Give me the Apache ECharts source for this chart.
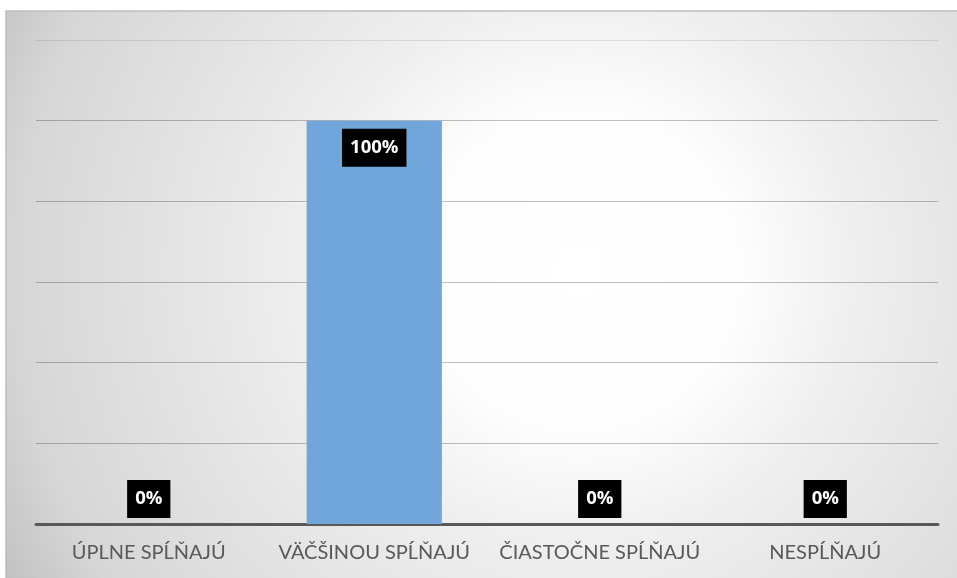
<!DOCTYPE html>
<html>
<head>
<meta charset="utf-8">
<script src="https://cdn.jsdelivr.net/npm/echarts@6/dist/echarts.min.js"></script>
<style>
  html, body { margin: 0; padding: 0; background: #fff; }
  #chart { width: 957px; height: 578px; }
</style>
</head>
<body>
<div id="chart"></div>
<script>
// kategórie a hodnoty (v %)
const categories = ['ÚPLNE SPĹŇAJÚ', 'VÄČŠINOU SPĹŇAJÚ', 'ČIASTOČNE SPĹŇAJÚ', 'NESPĹŇAJÚ'];
const values = [0, 100, 0, 0];

const chart = echarts.init(document.getElementById('chart'));

const labelBase = {
  show: true,
  formatter: '{c}%',
  color: '#fff',
  backgroundColor: '#000',
  fontFamily: 'Open Sans',
  fontWeight: 'bold',
  fontSize: 18.5,
  lineHeight: 20,
  padding: [9, 8]
};

const option = {
  animation: false,
  graphic: [
    {
      type: 'rect',
      z: -10,
      shape: { x: 6, y: 11, width: 960, height: 580 },
      style: {
        fill: new echarts.graphic.RadialGradient(580, 270, 650, [
          { offset: 0, color: '#ffffff' },
          { offset: 0.25, color: '#fdfdfd' },
          { offset: 0.42, color: '#efefef' },
          { offset: 0.87, color: '#d6d6d6' },
          { offset: 1, color: '#c2c2c2' }
        ], true),
        stroke: '#bdbdbd',
        lineWidth: 1.5
      }
    }
  ],
  grid: { left: 36, right: 19, top: 40, bottom: 54 },
  xAxis: {
    type: 'category',
    data: categories,
    axisLine: { lineStyle: { color: '#595959', width: 3 } },
    axisTick: { show: false },
    axisLabel: {
      interval: 0,
      color: '#595959',
      fontFamily: 'Lato',
      fontSize: 20,
      margin: 19
    }
  },
  yAxis: {
    type: 'value',
    min: 0,
    max: 120,
    interval: 20,
    axisLabel: { show: false },
    axisLine: { show: false },
    axisTick: { show: false },
    splitLine: {
      lineStyle: {
        color: ['rgba(0,0,0,0.25)', 'rgba(0,0,0,0.25)', 'rgba(0,0,0,0.25)',
                'rgba(0,0,0,0.25)', 'rgba(0,0,0,0.25)', 'rgba(0,0,0,0.25)',
                'rgba(0,0,0,0.1)'],
        width: 1
      }
    }
  },
  series: [
    {
      type: 'bar',
      barWidth: '60%',
      itemStyle: { color: '#70a6da' },
      data: values.map(v => ({
        value: v,
        label: v > 0
          ? Object.assign({}, labelBase, { position: 'insideTop', distance: 8 })
          : Object.assign({}, labelBase, { position: 'top', distance: 6 })
      }))
    }
  ]
};

chart.setOption(option);
</script>
</body>
</html>
